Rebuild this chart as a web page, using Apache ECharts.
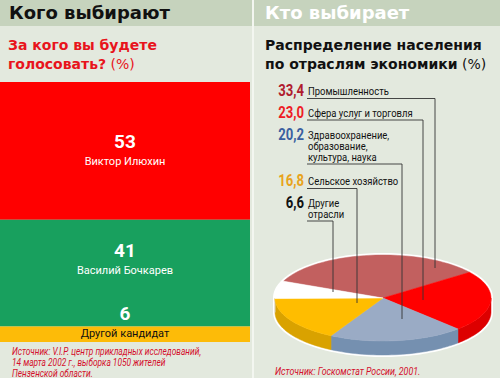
<!DOCTYPE html>
<html><head><meta charset="utf-8">
<script src="https://cdn.jsdelivr.net/npm/echarts@6/dist/echarts.min.js"></script>
<style>html,body{margin:0;padding:0;background:#e3e9de}#c{width:500px;height:378px}</style>
</head><body><div id="c"></div>
<script>
// ---- data ----
const candidates = ['Виктор Илюхин', 'Василий Бочкарев', 'Другой кандидат'];
const votes = [53, 41, 6];
const sectors = ['Промышленность', 'Сфера услуг и торговля', 'Здравоохранение,\nобразование,\nкультура, наука', 'Сельское хозяйство', 'Другие\nотрасли'];
const shares = [33.4, 23.0, 20.2, 16.8, 6.6];
const shareLabels = ['33,4', '23,0', '20,2', '16,8', '6,6'];

// ---- styles / layout ----
const NARROW = 'Roboto,"Liberation Sans",sans-serif';
const BOLD = '"DejaVu Sans",sans-serif';
const barColors = ['#ff0000', '#18a05e', '#fdbb08'];
const barLabelOffsets = [[0, 0], [0, -13], [0, -11]];
const barNameColors = ['#fff', '#fff', '#111'];
const topColors = ['#c2605f', '#ff0000', '#9aabc5', '#ffbd00', '#ffffff'];
const sideColors = ['#9c4444', '#dd0000', '#7590b0', '#d9a200', '#dddddd'];
const numColors = ['#b01c2e', '#ee1c25', '#3a5fa0', '#e8a31c', '#111111'];
const pie = { cx: 383, cy: 298, rx: 108, ry: 43, h: 14, start: 203 };
const rowY = [91, 113, 135, 181, 203];
const lineY = [98.5, 120, 164, 188.5, 221];
const leadX = [435, 423, 402, 357, 333];
const leadEndY = [268, 300, 319, 303, 292];

const chart = echarts.init(document.getElementById('c'), null, { renderer: 'svg' });

function arc(a1, a2, dy) {
  const pts = [];
  const n = Math.max(2, Math.ceil((a2 - a1) / 2));
  for (let i = 0; i <= n; i++) {
    const a = (a1 + (a2 - a1) * i / n) * Math.PI / 180;
    pts.push([pie.cx + pie.rx * Math.cos(a), pie.cy + pie.ry * Math.sin(a) + dy]);
  }
  return pts;
}

const total = shares.reduce((s, v) => s + v, 0);

function renderSlice(params, api) {
  const i = params.dataIndex;
  let before = 0;
  for (let k = 0; k < i; k++) before += shares[k];
  const a1 = pie.start + before / total * 360;
  const a2 = a1 + api.value(0) / total * 360;
  const children = [];
  if (i === 0) {
    const sil = arc(180, 360, 0).concat(arc(360, 540, pie.h));
    children.push({ type: 'polygon', z2: -1, shape: { points: sil }, style: { fill: '#fff', stroke: '#fff', lineWidth: 4 } });
  }
  const s1 = Math.max(a1, 360), s2 = Math.min(a2, 540);
  if (s2 > s1) {
    const top = arc(s1, s2, 0), bot = arc(s1, s2, pie.h).reverse();
    children.push({ type: 'polygon', z2: 1, shape: { points: top.concat(bot) }, style: { fill: sideColors[i], stroke: sideColors[i], lineWidth: 0.5 } });
  }
  children.push({ type: 'polygon', z2: 2, shape: { points: [[pie.cx, pie.cy]].concat(arc(a1, a2, 0)) }, style: { fill: topColors[i], stroke: topColors[i], lineWidth: 0.5 } });
  children.push({ type: 'polyline', z2: 10, shape: { points: [[307, lineY[i]], [leadX[i], lineY[i]], [leadX[i], leadEndY[i]]] }, style: { stroke: '#333', lineWidth: 0.9, fill: null } });
  children.push({ type: 'text', z2: 11, x: 304, y: rowY[i], scaleX: 0.82, style: { text: shareLabels[i], x: 0, y: 0, align: 'right', verticalAlign: 'middle', fill: numColors[i], fontSize: 16, fontWeight: 'bold', fontFamily: NARROW } });
  children.push({ type: 'text', z2: 11, x: 308, y: rowY[i] - 5.5, scaleX: 0.86, style: { text: sectors[i], x: 0, y: 0, align: 'left', verticalAlign: 'top', fill: '#111', fontSize: 11, lineHeight: 11, fontFamily: NARROW } });
  return { type: 'group', children };
}

const barSeries = candidates.map((name, i) => ({
  name, type: 'bar', stack: 'v', barWidth: '100%', silent: true,
  data: [votes[i]],
  itemStyle: { color: barColors[i] },
  label: {
    show: true, position: 'inside', offset: barLabelOffsets[i],
    formatter: () => '{v|' + votes[i] + '}\n{n|' + name + '}',
    rich: {
      v: { fontSize: 19, fontWeight: 'bold', color: '#fff', fontFamily: NARROW, lineHeight: 21, align: 'center' },
      n: { fontSize: 11, color: barNameColors[i], fontFamily: NARROW, lineHeight: 19, align: 'center' }
    }
  }
}));

chart.setOption({
  animation: false,
  backgroundColor: '#e3e9de',
  grid: { left: 0, top: 82, width: 250, height: 260 },
  xAxis: { type: 'category', data: ['v'], show: false },
  yAxis: { type: 'value', min: 0, max: 100, inverse: true, show: false },
  graphic: [
    { type: 'rect', shape: { x: 0, y: 0, width: 500, height: 26 }, style: { fill: '#c6d3bd' }, z: -1 },
    { type: 'rect', shape: { x: 252, y: 0, width: 2, height: 378 }, style: { fill: '#f3f6f0' }, z: -1 },
    { type: 'text', x: 9, y: 3, style: { text: 'Кого выбирают', fill: '#111', fontSize: 18, fontWeight: 'bold', fontFamily: BOLD } },
    { type: 'text', x: 265, y: 3, style: { text: 'Кто выбирает', fill: '#fff', fontSize: 18, fontWeight: 'bold', fontFamily: BOLD } },
    { type: 'text', x: 8, y: 35, style: {
      text: '{b|За кого вы будете}\n{b|голосовать?} {n|(%)}', fill: '#e8141c', fontSize: 14, fontFamily: BOLD, lineHeight: 19,
      rich: { b: { fontWeight: 'bold', fontSize: 14, fontFamily: BOLD, fill: '#e8141c', lineHeight: 19 }, n: { fontSize: 14, fontFamily: BOLD, fill: '#e8141c', lineHeight: 19 } } } },
    { type: 'text', x: 265, y: 35, style: {
      text: '{b|Распределение населения}\n{b|по отраслям экономики} {n|(%)}', fill: '#111', fontSize: 14, fontFamily: BOLD, lineHeight: 19,
      rich: { b: { fontWeight: 'bold', fontSize: 14, fontFamily: BOLD, fill: '#111', lineHeight: 19 }, n: { fontSize: 14, fontFamily: BOLD, fill: '#111', lineHeight: 19 } } } },
    { type: 'text', x: 12, y: 346, scaleX: 0.76, style: { text: 'Источник: V.I.P. центр прикладных исследований,\n14 марта 2002 г., выборка 1050 жителей\nПензенской области.', fill: '#d4102c', fontSize: 11, fontStyle: 'italic', lineHeight: 10.8, fontFamily: NARROW } },
    { type: 'text', x: 275, y: 366, scaleX: 0.8, style: { text: 'Источник: Госкомстат России, 2001.', fill: '#d4102c', fontSize: 11, fontStyle: 'italic', fontFamily: NARROW } }
  ],
  series: barSeries.concat([{
    type: 'custom', coordinateSystem: 'none', silent: true,
    data: shares.map(v => [v]),
    renderItem: renderSlice
  }])
});
</script></body></html>
